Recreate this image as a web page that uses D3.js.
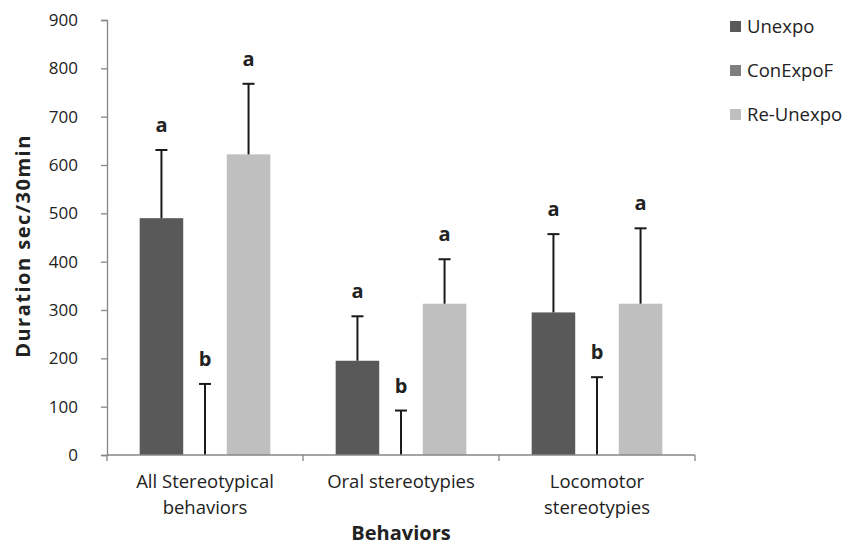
<!DOCTYPE html>
<html>
<head>
<meta charset="utf-8">
<script src="https://cdn.jsdelivr.net/npm/d3@7"></script>
<style>
  body { margin: 0; background: #fff; }
  text { font-family: "Open Sans", sans-serif; fill: #222; }
</style>
</head>
<body>
<div id="chart"></div>
<script>
// data
var categories = [["All Stereotypical", "behaviors"], ["Oral stereotypies"], ["Locomotor", "stereotypies"]];
var seriesNames = ["Unexpo", "ConExpoF", "Re-Unexpo"];
var seriesColors = ["#595959", "#7f7f7f", "#bfbfbf"];
var unexpo = [490, 195, 295];
var conExpoF = [0, 0, 0];
var reUnexpo = [622, 313, 313];
var unexpoErr = [141, 92, 162];
var conExpoFErr = [147, 92, 161];
var reUnexpoErr = [146, 92, 156];
var unexpoSig = ["a", "a", "a"];
var conExpoFSig = ["b", "b", "b"];
var reUnexpoSig = ["a", "a", "a"];
var yTicks = [0, 100, 200, 300, 400, 500, 600, 700, 800, 900];

var w = 844, h = 547;
var svg = d3.select("#chart").append("svg").attr("width", w).attr("height", h);

var x0 = d3.scaleBand().domain(d3.range(categories.length)).range([107, 695]).paddingInner(0).paddingOuter(0);
var x1 = d3.scaleBand().domain(d3.range(seriesNames.length)).range([0, x0.bandwidth()]).paddingOuter(0.75).paddingInner(0);
var y = d3.scaleLinear().domain([0, 900]).range([455, 20]);

var series = [
  {name: seriesNames[0], vals: unexpo, err: unexpoErr, sig: unexpoSig},
  {name: seriesNames[1], vals: conExpoF, err: conExpoFErr, sig: conExpoFSig},
  {name: seriesNames[2], vals: reUnexpo, err: reUnexpoErr, sig: reUnexpoSig}
];

// y axis
var yAxis = svg.append("g").attr("transform", "translate(107,0)")
  .call(d3.axisLeft(y).tickValues(yTicks).tickSize(6).tickPadding(23).tickFormat(d3.format("d")));
yAxis.attr("font-size", null).attr("font-family", null);
yAxis.select(".domain").attr("stroke", "#868686").attr("stroke-width", 1.3);
yAxis.selectAll(".tick line").attr("stroke", "#868686").attr("stroke-width", 1.3);
yAxis.selectAll(".tick text").style("font-size", "17px").attr("fill", "#222");

// bars
series.forEach(function(s, si) {
  var g = svg.append("g");
  g.selectAll("rect").data(s.vals).enter().append("rect")
    .attr("x", function(d, i) { return x0(i) + x1(si); })
    .attr("y", function(d) { return y(d); })
    .attr("width", x1.bandwidth())
    .attr("height", function(d) { return y(0) - y(d); })
    .attr("fill", seriesColors[si]);
});

// error bars (top only) and letters
series.forEach(function(s, si) {
  s.vals.forEach(function(v, i) {
    var cx = x0(i) + x1(si) + x1.bandwidth() / 2;
    var top = y(v + s.err[i]);
    svg.append("line").attr("x1", cx).attr("x2", cx).attr("y1", y(v)).attr("y2", top)
      .attr("stroke", "#1a1a1a").attr("stroke-width", 2);
    svg.append("line").attr("x1", cx - 6).attr("x2", cx + 6).attr("y1", top).attr("y2", top)
      .attr("stroke", "#1a1a1a").attr("stroke-width", 2);
    svg.append("text").text(s.sig[i]).attr("x", cx).attr("y", top - 18)
      .attr("text-anchor", "middle").style("font-size", "20px").style("font-weight", "700");
  });
});

// x axis
var xg = svg.append("g");
xg.append("line").attr("x1", 107).attr("x2", 695).attr("y1", y(0)).attr("y2", y(0))
  .attr("stroke", "#868686").attr("stroke-width", 1.3);
xg.selectAll("line.tk").data(d3.range(categories.length + 1)).enter().append("line")
  .attr("x1", function(d) { return d < categories.length ? x0(d) : x0(d - 1) + x0.bandwidth(); })
  .attr("x2", function(d) { return d < categories.length ? x0(d) : x0(d - 1) + x0.bandwidth(); })
  .attr("y1", y(0)).attr("y2", y(0) + 6).attr("stroke", "#868686").attr("stroke-width", 1.3);
categories.forEach(function(c, i) {
  var t = xg.append("text").attr("text-anchor", "middle").style("font-size", "18.5px")
    .attr("x", x0(i) + x0.bandwidth() / 2).attr("y", 488);
  c.forEach(function(line, li) {
    t.append("tspan").attr("x", x0(i) + x0.bandwidth() / 2).attr("dy", li === 0 ? 0 : 26).text(line);
  });
});

// axis titles
svg.append("text").text("Behaviors").attr("x", 401).attr("y", 540).attr("text-anchor", "middle")
  .style("font-size", "20px").style("font-weight", "700");
svg.append("text").text("Duration sec/30min").attr("transform", "translate(30,246) rotate(-90)")
  .attr("text-anchor", "middle").style("font-size", "20px").style("font-weight", "700")
  .style("letter-spacing", "1.5px");

// legend
var lg = svg.append("g");
seriesNames.forEach(function(n, i) {
  var cy = 27 + i * 44;
  lg.append("rect").attr("x", 730).attr("y", cy - 6).attr("width", 11).attr("height", 11).attr("fill", seriesColors[i]);
  lg.append("text").text(n).attr("x", 747).attr("y", cy + 6).style("font-size", "18.5px");
});
</script>
</body>
</html>
